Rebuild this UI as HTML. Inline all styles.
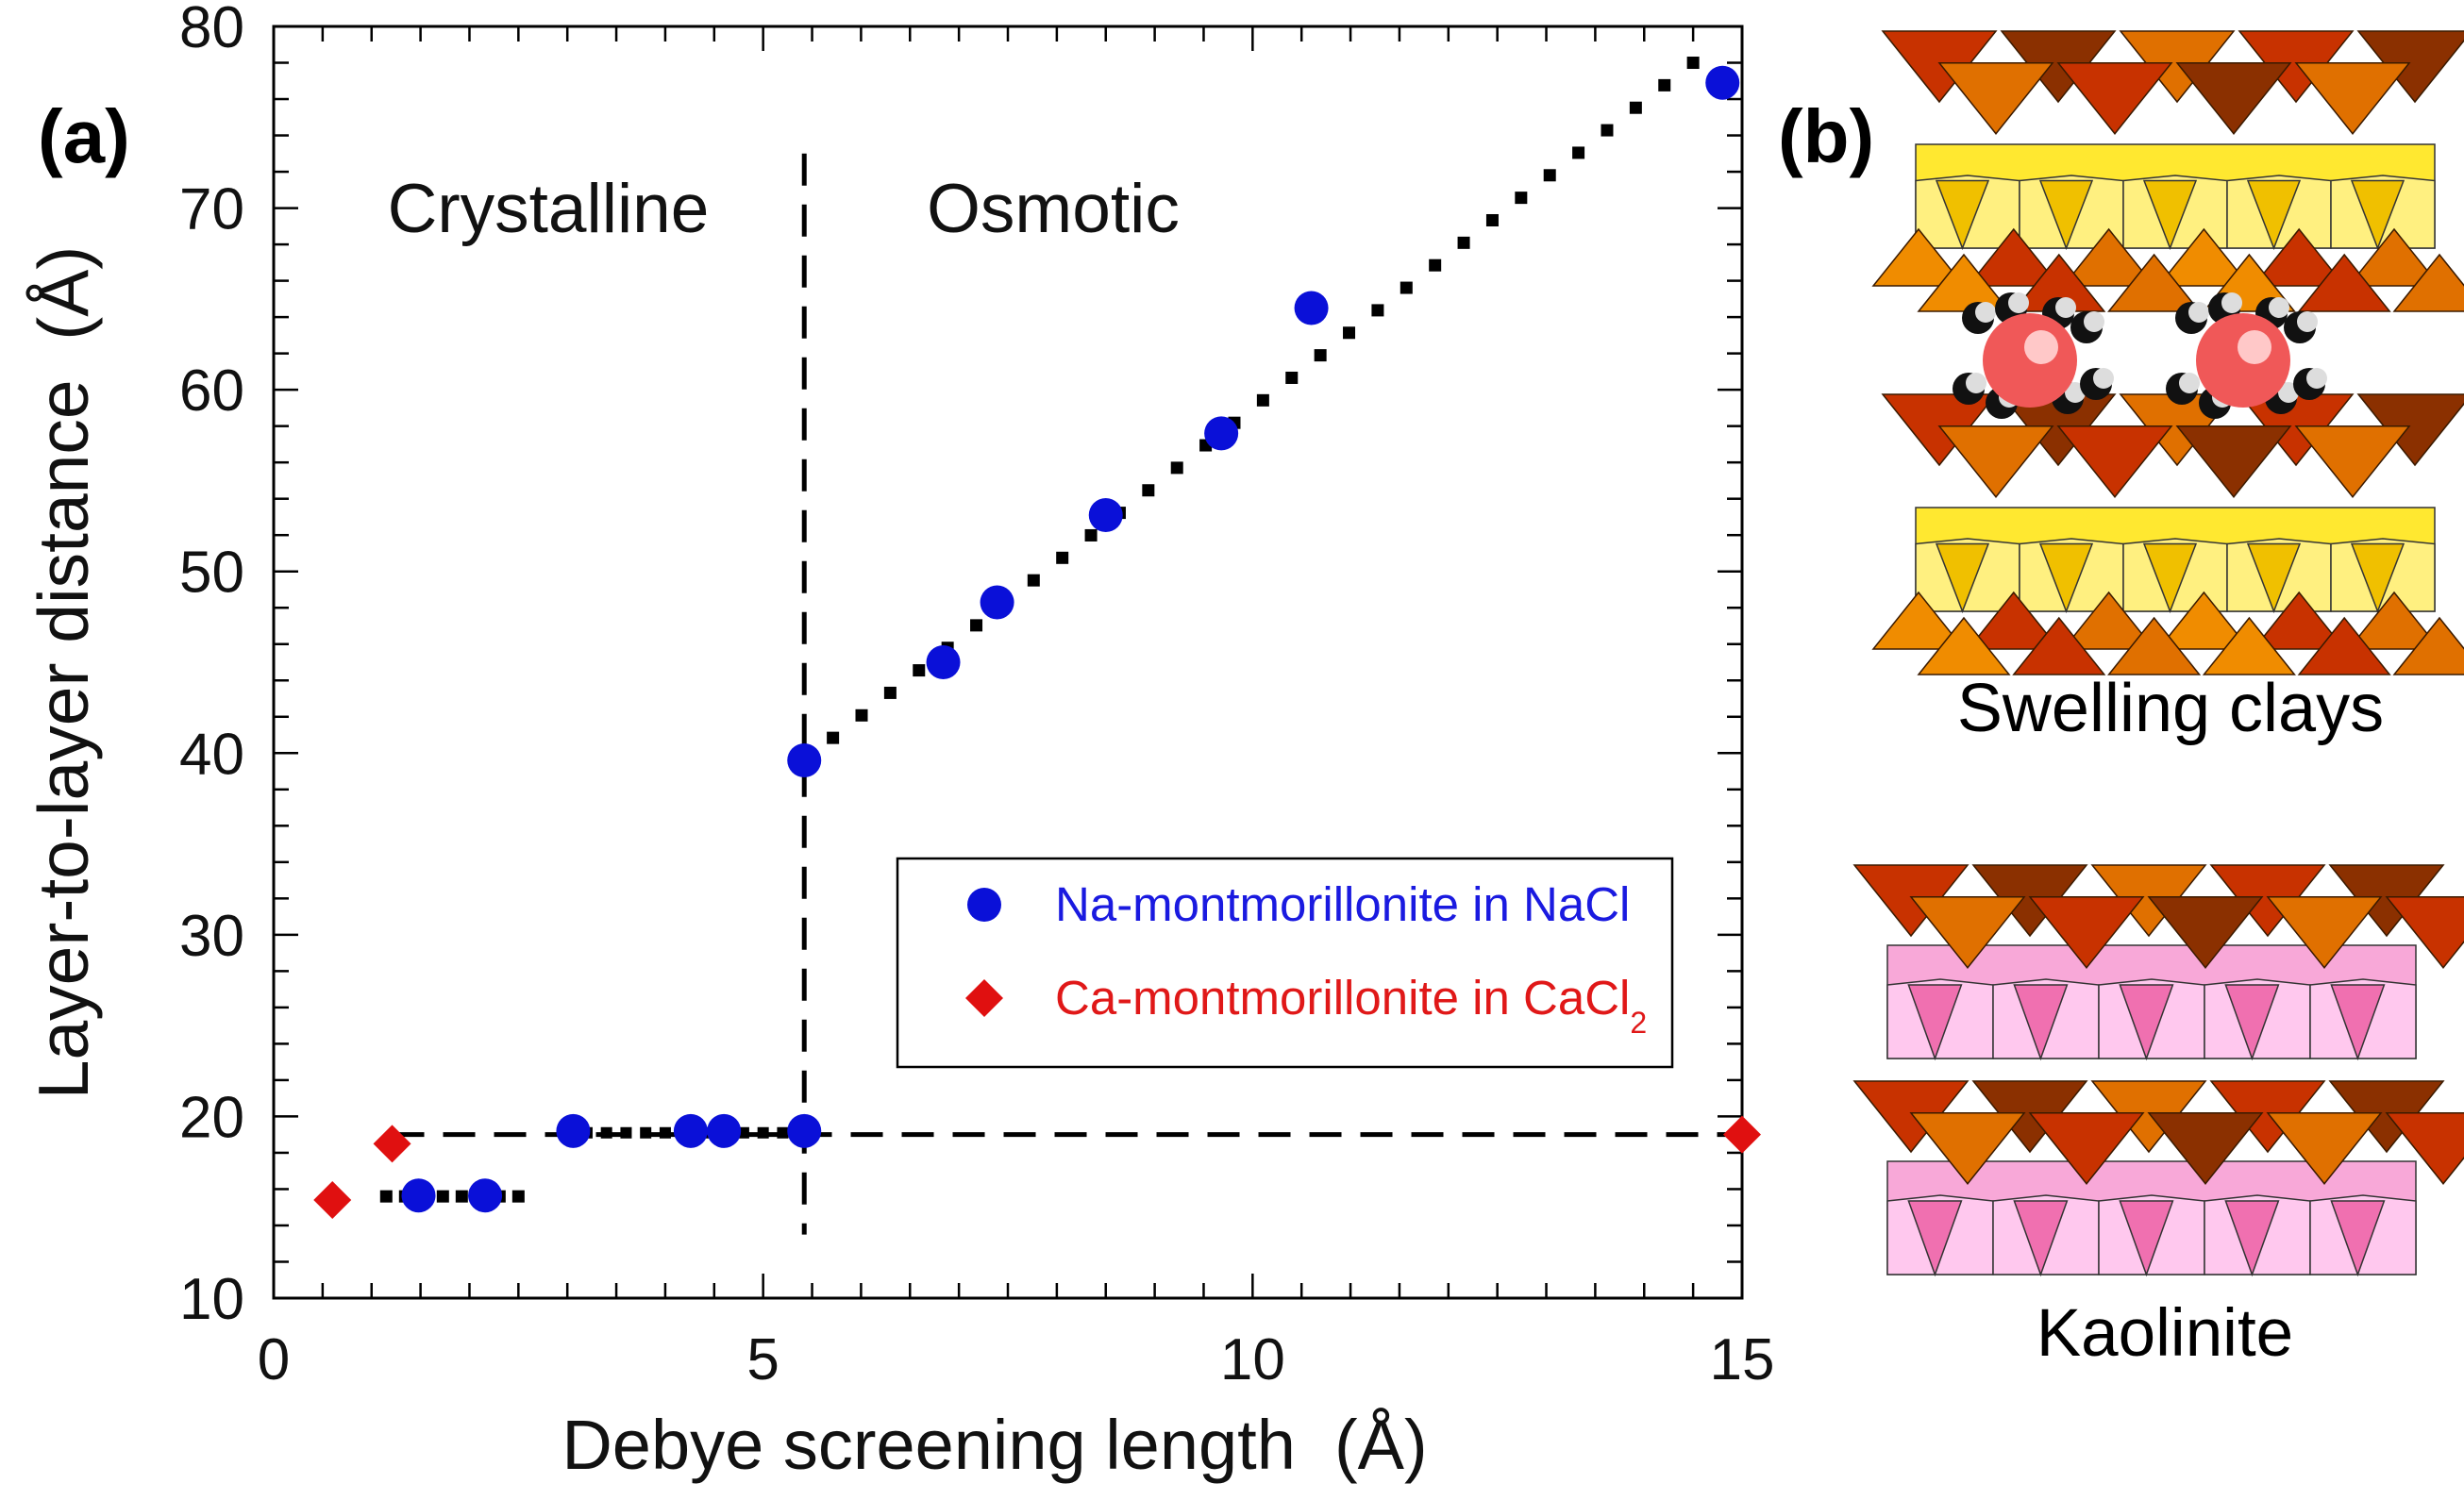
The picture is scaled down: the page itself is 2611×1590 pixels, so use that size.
<!DOCTYPE html>
<html><head><meta charset="utf-8"><style>
html,body{margin:0;padding:0;background:#fff}
svg{display:block}
text{font-family:"Liberation Sans",sans-serif;white-space:pre}
</style></head><body>
<svg id="fig" width="2611" height="1590" viewBox="0 0 2611 1590" xmlns="http://www.w3.org/2000/svg">
<g id="chart"></g>
<g id="clays"></g>
</svg>
<script>
const naX=[1.48,2.16,3.06,4.26,4.6,5.42,5.42,6.84,7.39,8.5,9.68,10.6,14.8];
const naY=[15.65,15.65,19.2,19.2,19.2,19.2,39.6,45,48.3,53.1,57.6,64.5,76.9];
const caX=[0.6,1.21,15.0];
const caY=[15.4,18.5,19.0];
const xTicks=[0,5,10,15];
const yTicks=[10,20,30,40,50,60,70,80];
const dashH=[1.21,15,19];
const dashV=[5.42,13.5,73];
const dotMain=[5.42,39.6,14.5,78];
const dotLow=[1.15,15.6,2.5,15.6];
const dotMid=[3.0,19.1,5.4,19.1];

const NS='http://www.w3.org/2000/svg';
const X0=290,X1=1846,YT=28,YB=1376;
const sx=v=>X0+(v-0)/(15-0)*(X1-X0);
const sy=v=>YB-(v-10)/(80-10)*(YB-YT);
function mk(parent,tag,attrs,txt){const e=document.createElementNS(NS,tag);for(const k in attrs)e.setAttribute(k,attrs[k]);if(txt!==undefined)e.textContent=txt;parent.appendChild(e);return e;}
const C=document.getElementById('chart');

let fr=mk(C,'rect',{x:X0,y:YT,width:X1-X0,height:YB-YT,fill:'none',stroke:'#000','stroke-width':3});


for(let v=0;v<=15.001;v+=0.5){const maj=Math.abs(v%5)<1e-6;const L=maj?26:16;const x=sx(v);
 let t1=mk(C,'line',{x1:x,x2:x,y1:YB,y2:YB-L,stroke:'#000','stroke-width':2.5});
 
 
 let t2=mk(C,'line',{x1:x,x2:x,y1:YT,y2:YT+L,stroke:'#000','stroke-width':2.5});
 
 }
for(let v=10;v<=80.001;v+=2){const maj=Math.abs(v%10)<1e-6;const L=maj?26:16;const y=sy(v);
 let t1=mk(C,'line',{x1:X0,x2:X0+L,y1:y,y2:y,stroke:'#000','stroke-width':2.5});
 
 
 let t2=mk(C,'line',{x1:X1,x2:X1-L,y1:y,y2:y,stroke:'#000','stroke-width':2.5});
 
 }
xTicks.forEach(v=>{let t=mk(C,'text',{x:sx(v),y:1462,'font-size':62,'text-anchor':'middle',fill:'#111'},String(v));
 
 });
yTicks.forEach(v=>{let t=mk(C,'text',{x:259,y:sy(v)+22,'font-size':62,'text-anchor':'end',fill:'#111'},String(v));
 
 });
let xt=mk(C,'text',{x:1054,y:1557,'font-size':74,'text-anchor':'middle',fill:'#111'},'Debye screening length  (Å)');


let yt=mk(C,'text',{x:0,y:0,'font-size':75,'text-anchor':'middle',fill:'#111',transform:'translate(93,713) rotate(-90)'},'Layer-to-layer distance  (Å)');


let pa=mk(C,'text',{x:40,y:172,'font-size':80,'font-weight':'bold',fill:'#000'},'(a)');


let r1=mk(C,'text',{x:581,y:246,'font-size':73,'text-anchor':'middle',fill:'#111'},'Crystalline');


let r2=mk(C,'text',{x:1116,y:246,'font-size':73,'text-anchor':'middle',fill:'#111'},'Osmotic');



let dh=mk(C,'line',{x1:sx(dashH[0]),x2:sx(dashH[1]),y1:sy(dashH[2]),y2:sy(dashH[2]),stroke:'#000','stroke-width':5,'stroke-dasharray':'34 20'});


let dv=mk(C,'line',{x1:sx(dashV[0]),x2:sx(dashV[0]),y1:sy(dashV[2]),y2:sy(dashV[1]),stroke:'#000','stroke-width':5,'stroke-dasharray':'34 20'});


function dotted(seg,name,sz,gap){const ax=sx(seg[0]),ay=sy(seg[1]),bx=sx(seg[2]),by=sy(seg[3]);const d=Math.hypot(bx-ax,by-ay);const n=Math.floor(d/gap);
 const g=mk(C,'g',{});
 for(let i=0;i<=n;i++){const x=ax+(bx-ax)*i/n,y=ay+(by-ay)*i/n;mk(g,'rect',{x:x-sz/2,y:y-sz/2,width:sz,height:sz,fill:'#000'});}}
dotted(dotMain,'osmotic-fit-dotted-line',13,38);
dotted(dotLow,'low-plateau-dotted-line',13,20);
dotted(dotMid,'mid-plateau-dotted-line',12,20);

naX.forEach((v,i)=>{let c=mk(C,'circle',{cx:sx(v),cy:sy(naY[i]),r:18,fill:'#0a10d8'});
 
 });
caX.forEach((v,i)=>{const x=sx(v),y=sy(caY[i]);let p=mk(C,'polygon',{points:`${x},${y-20} ${x+20},${y} ${x},${y+20} ${x-20},${y}`,fill:'#e01010'});
 
 });

const lg=mk(C,'g',{});
mk(lg,'rect',{x:951,y:910,width:821,height:221,fill:'#fff',stroke:'#000','stroke-width':2.5});
let le1=mk(lg,'g',{});
mk(le1,'circle',{cx:1043,cy:959,r:18,fill:'#0a10d8'});
mk(le1,'text',{x:1118,y:976,'font-size':51,fill:'#1a1ae0'},'Na-montmorillonite in NaCl');
let le2=mk(lg,'g',{});
mk(le2,'polygon',{points:'1043,1038 1063,1058 1043,1078 1023,1058',fill:'#e01010'});
const t2=mk(le2,'text',{x:1118,y:1075,'font-size':51,fill:'#e01818'},'Ca-montmorillonite in CaCl');
mk(t2,'tspan',{'font-size':32,dy:20},'2');

const B=document.getElementById('clays');
function tetraRow(g,x0,x1,y,h,down,cols){const w=h*1.6;let k=0;
 for(let off=0;off<2;off++){for(let x=x0+off*w*0.5;x<x1-w*0.5;x+=w*1.05){const yy=y+off*h*0.45;const c=cols[(k++)%cols.length];
  const pts=down?`${x},${yy} ${x+w},${yy} ${x+w*0.5},${yy+h}`:`${x},${yy+h} ${x+w},${yy+h} ${x+w*0.5},${yy}`;
  mk(g,'polygon',{points:pts,fill:c,stroke:'#3a1a00','stroke-width':1.5});}}}
function band(g,x0,x1,y,h,c1,c2,c3){mk(g,'rect',{x:x0+40,y:y,width:x1-x0-60,height:h,fill:c1,stroke:'#333','stroke-width':1.5});
 const w=(x1-x0-60)/5;for(let i=0;i<5;i++){const x=x0+40+i*w;
  mk(g,'polygon',{points:`${x},${y+h*0.35} ${x+w*0.5},${y+h*0.3} ${x+w},${y+h*0.35} ${x+w},${y+h} ${x},${y+h}`,fill:c2,stroke:'#333','stroke-width':1.5});
  mk(g,'polygon',{points:`${x+w*0.2},${y+h*0.35} ${x+w*0.7},${y+h*0.35} ${x+w*0.45},${y+h}`,fill:c3,stroke:'#333','stroke-width':1.5});}}
function swellLayer(name,y){const g=mk(B,'g',{});
 band(g,1990,2600,y+120,110,'#ffe830','#fff080','#f0c000');
 tetraRow(g,1995,2610,y,75,true,['#c83200','#8b3000','#e07000']);
 tetraRow(g,1985,2610,y+210,60,false,['#f08c00','#c83200','#e07000']);}
swellLayer('swelling-clay-layer-top',33);
swellLayer('swelling-clay-layer-bottom',418);
[[2151,382],[2377,382]].forEach(p=>{const g=mk(B,'g',{});
 [[-55,-45],[-20,-55],[30,-50],[60,-35],[-65,30],[-30,45],[40,40],[70,25]].forEach(o=>{mk(g,'circle',{cx:p[0]+o[0],cy:p[1]+o[1],r:17,fill:'#111'});mk(g,'circle',{cx:p[0]+o[0]+8,cy:p[1]+o[1]-6,r:11,fill:'#ddd'});});
 mk(g,'circle',{cx:p[0],cy:p[1],r:50,fill:'#f05858'});mk(g,'circle',{cx:p[0]+12,cy:p[1]-14,r:18,fill:'#ffc8c8'});});
function kaoLayer(name,y){const g=mk(B,'g',{});
 band(g,1960,2580,y+85,120,'#f8a8d8','#ffc8ee','#f070b0');
 tetraRow(g,1965,2590,y,75,true,['#c83200','#8b3000','#e07000']);}
kaoLayer('kaolinite-layer-top',917);
kaoLayer('kaolinite-layer-bottom',1146);
let pb=mk(B,'text',{x:1884,y:172,'font-size':80,'font-weight':'bold',fill:'#000'},'(b)');


let sw=mk(B,'text',{x:2300,y:775,'font-size':72,'text-anchor':'middle',fill:'#000'},'Swelling clays');


let ka=mk(B,'text',{x:2294,y:1437,'font-size':71,'text-anchor':'middle',fill:'#000'},'Kaolinite');


</script>
</body></html>
